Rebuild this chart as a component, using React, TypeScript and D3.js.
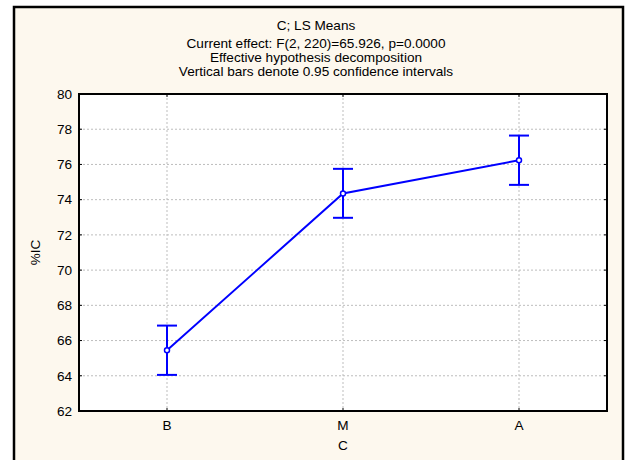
import React from 'react'
import * as d3 from 'd3'

const categories = ['B', 'M', 'A']
const means = [65.45, 74.35, 76.24]
const lower = [64.05, 72.97, 74.84]
const upper = [66.85, 75.75, 77.64]
const yTicks = [62, 64, 66, 68, 70, 72, 74, 76, 78, 80]
const titleLines = [
  'Current effect: F(2, 220)=65.926, p=0.0000',
  'Effective hypothesis decomposition',
  'Vertical bars denote 0.95 confidence intervals',
]

const W = 625
const H = 460
const plot = { left: 79, right: 607, top: 94, bottom: 411 }
const BLUE = '#0000ff'
const FONT = '"Liberation Sans", Arial, sans-serif'
const FS = 13.6
const TITLE_X = 316

export default function App() {
  const x = d3.scalePoint<string>().domain(categories).range([plot.left, plot.right]).padding(0.5)
  const y = d3.scaleLinear().domain([62, 80]).range([plot.bottom, plot.top])
  const line = d3.line<number>().x((_, i) => x(categories[i])!).y((d) => y(d))

  return (
    <svg width={W} height={H} style={{ position: 'fixed', left: 0, top: 0 }} fontFamily={FONT}>
      <rect x={0} y={0} width={W} height={H} fill="#ffffff" />
      <rect x={14} y={7} width={609} height={470} fill="#fdf8ee" stroke="#000" strokeWidth={2.5} />

      <text x={TITLE_X} y={30} textAnchor="middle" fontSize={FS}>C; LS Means</text>
      {titleLines.map((t, i) => (
        <text key={i} x={TITLE_X} y={48 + i * 14} textAnchor="middle" fontSize={FS}>{t}</text>
      ))}

      <rect x={plot.left} y={plot.top} width={plot.right - plot.left} height={plot.bottom - plot.top} fill="#fff" />

      {/* grid */}
      {yTicks.slice(1, -1).map((t) => (
        <line key={t} x1={plot.left} x2={plot.right} y1={y(t)} y2={y(t)} stroke="#bdbdbd" strokeDasharray="2,2" />
      ))}
      {categories.map((c) => (
        <line key={c} x1={x(c)} x2={x(c)} y1={plot.top} y2={plot.bottom} stroke="#bdbdbd" strokeDasharray="2,2" />
      ))}

      {/* ticks */}
      {yTicks.map((t) => (
        <g key={t}>
          <line x1={plot.left} x2={plot.left + 3} y1={y(t)} y2={y(t)} stroke="#000" />
          <line x1={plot.right - 3} x2={plot.right} y1={y(t)} y2={y(t)} stroke="#000" />
          <text x={plot.left - 7} y={y(t)} dy="0.35em" textAnchor="end" fontSize={FS}>{t}</text>
        </g>
      ))}
      {categories.map((c) => (
        <g key={c}>
          <line x1={x(c)} x2={x(c)} y1={plot.bottom - 3} y2={plot.bottom} stroke="#000" />
          <line x1={x(c)} x2={x(c)} y1={plot.top} y2={plot.top + 3} stroke="#000" />
          <text x={x(c)} y={plot.bottom + 19} textAnchor="middle" fontSize={FS}>{c}</text>
        </g>
      ))}

      <rect x={plot.left} y={plot.top} width={plot.right - plot.left} height={plot.bottom - plot.top} fill="none" stroke="#000" strokeWidth={2} />

      <text x={343} y={450} textAnchor="middle" fontSize={FS}>C</text>
      <text transform={`translate(40,${(plot.top + plot.bottom) / 2}) rotate(-90)`} textAnchor="middle" fontSize={FS}>%IC</text>

      {/* series */}
      <path d={line(means) ?? ''} fill="none" stroke={BLUE} strokeWidth={2} />
      {categories.map((c, i) => (
        <g key={c} stroke={BLUE} strokeWidth={2}>
          <line x1={x(c)} x2={x(c)} y1={y(lower[i])} y2={y(upper[i])} />
          <line x1={x(c)! - 10} x2={x(c)! + 10} y1={y(lower[i])} y2={y(lower[i])} />
          <line x1={x(c)! - 10} x2={x(c)! + 10} y1={y(upper[i])} y2={y(upper[i])} />
          <circle cx={x(c)} cy={y(means[i])} r={2.5} fill="#fff" strokeWidth={1.5} />
        </g>
      ))}
    </svg>
  )
}
